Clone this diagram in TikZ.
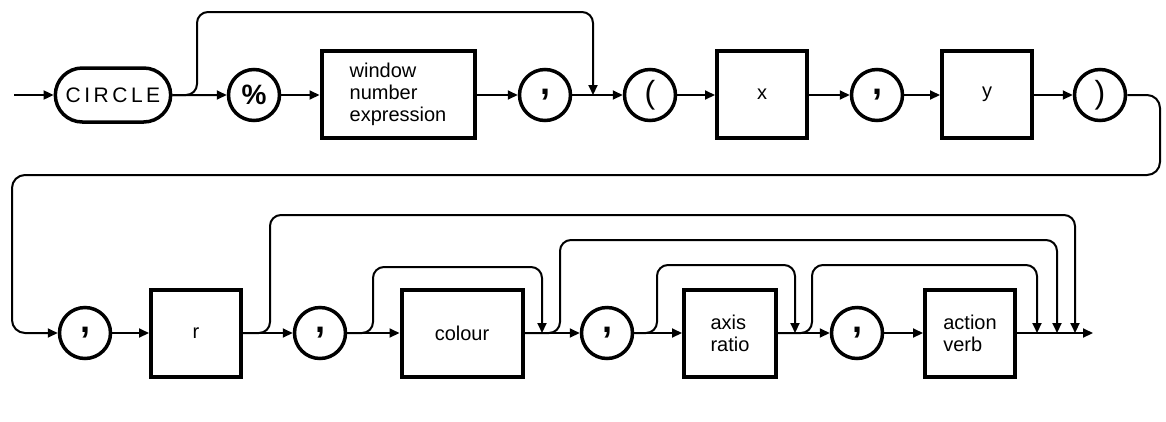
\documentclass[tikz,border=0pt]{standalone}
\usepackage{fontspec}
\setmainfont{Liberation Sans}
\usetikzlibrary{shapes.misc,arrows.meta}
\begin{document}
\begin{tikzpicture}[x=1pt,y=-1pt,
 every node/.style={font=\fontsize{20}{22}\selectfont},
 term/.style={circle,draw,line width=3.5pt,minimum size=51pt,inner sep=0pt,font=\fontsize{28}{28}\selectfont\bfseries},
 commanode/.style={term,font=\fontsize{36}{36}\selectfont\bfseries},
 parnode/.style={term,font=\fontsize{32}{32}\selectfont},
 nt/.style={rectangle,draw,line width=4pt,minimum width=90pt,minimum height=87pt,inner sep=2pt,align=left},
 kw/.style={rounded rectangle,draw,line width=3.5pt,minimum width=122pt,minimum height=54pt,font=\fontsize{21}{21}\selectfont},
 conn/.style={line width=2pt,-{Triangle[length=10pt,width=9pt]}},
 bypass/.style={line width=2pt,rounded corners=11pt,-{Triangle[length=10pt,width=9pt]}}
]
\useasboundingbox (0,0) rectangle (1166,421);
% row 1
\coordinate (start) at (14,95);
\node[kw] (circ) at (113,95) {C\,I\,R\,C\,L\,E};
\node[term] (pct) at (254,95) {\%};
\node[nt,minimum width=153pt] (win) at (398,94) {window\\number\\expression};
\node[commanode] (c1) at (545,95) {,};
\node[parnode] (lp) at (650,95) {(};
\node[nt] (xb) at (762,94) {x};
\node[commanode] (c2) at (877,95) {,};
\node[nt] (yb) at (987,94) {y};
\node[parnode] (rp) at (1100,95) {)};
\coordinate (j1) at (197,95);
\coordinate (m1) at (593,95);
\draw[conn] (start) -- (circ);
\draw[conn] (circ) -- (pct);
\draw[conn] (pct) -- (pct.east -| win.west);
\draw[conn] (pct.east -| win.east) -- (c1);
\draw[conn] (c1) -- (lp);
\draw[conn] (lp) -- (lp.east -| xb.west);
\draw[conn] (lp.east -| xb.east) -- (c2);
\draw[conn] (c2) -- (c2.east -| yb.west);
\draw[conn] (c2.east -| yb.east) -- (rp);
\draw[bypass] (circ.east) -- (j1) -- (j1 |- 0,12) -- (m1 |- 0,12) -- (m1);
% return
\node[commanode] (c3) at (85,333) {,};
\draw[bypass,rounded corners=13pt] (rp.east) -- (1160,95) -- (1160,175) -- (12,175) -- (12,333) -- (c3.west);
% row 2
\node[nt] (rb) at (196,333) {r};
\node[commanode] (c4) at (320,333) {,};
\node[nt,minimum width=121pt] (col) at (462,333) {colour};
\node[commanode] (c5) at (607,333) {,};
\node[nt,minimum width=92pt] (ax) at (730,333) {axis\\ratio};
\node[commanode] (c6) at (857,333) {,};
\node[nt] (av) at (970,333) {action\\verb};
\coordinate (end) at (1093,333);
\coordinate (b1s) at (270,333);
\coordinate (b1e) at (1075,333);
\coordinate (b2s) at (373,333);
\coordinate (b2e) at (542,333);
\coordinate (b3s) at (560,333);
\coordinate (b3e) at (1057,333);
\coordinate (b4s) at (657,333);
\coordinate (b4e) at (795,333);
\coordinate (b5s) at (812,333);
\coordinate (b5e) at (1037,333);
\draw[conn] (c3) -- (rb);
\draw[conn] (rb) -- (c4);
\draw[conn] (c4) -- (col);
\draw[conn] (col) -- (c5);
\draw[conn] (c5) -- (ax);
\draw[conn] (ax) -- (c6);
\draw[conn] (c6) -- (av);
\draw[conn] (av) -- (end);
\draw[bypass] (rb.east) -- (b1s) -- (b1s |- 0,215) -- (b1e |- 0,215) -- (b1e);
\draw[bypass] (c4.east) -- (b2s) -- (b2s |- 0,267) -- (b2e |- 0,267) -- (b2e);
\draw[bypass] (col.east) -- (b3s) -- (b3s |- 0,240) -- (b3e |- 0,240) -- (b3e);
\draw[bypass] (c5.east) -- (b4s) -- (b4s |- 0,265) -- (b4e |- 0,265) -- (b4e);
\draw[bypass] (ax.east) -- (b5s) -- (b5s |- 0,265) -- (b5e |- 0,265) -- (b5e);
\end{tikzpicture}
\end{document}
